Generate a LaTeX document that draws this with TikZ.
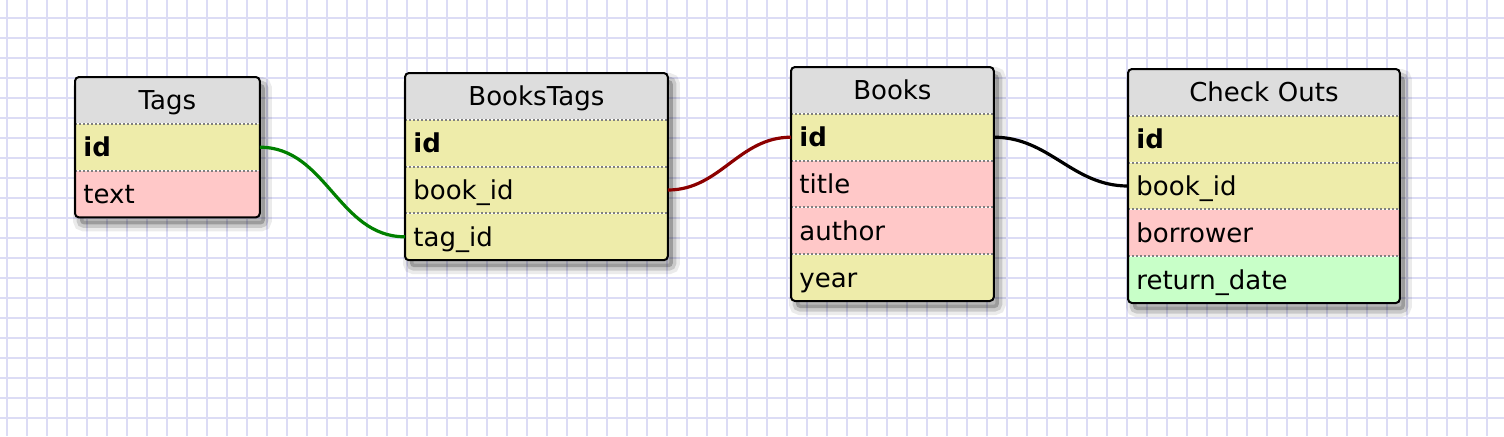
\documentclass[tikz,border=0pt]{standalone}
\usepackage{fontspec}
\setmainfont{DejaVu Sans}
\usetikzlibrary{positioning,fit,shadows}
\definecolor{gridblue}{RGB}{220,220,245}
\definecolor{headgray}{RGB}{221,221,221}
\definecolor{keyyellow}{RGB}{238,236,170}
\definecolor{textpink}{RGB}{255,200,200}
\definecolor{dategreen}{RGB}{200,255,200}
\definecolor{sepgray}{RGB}{128,128,128}
\definecolor{linkgreen}{RGB}{0,128,0}
\definecolor{linkred}{RGB}{140,0,0}
\pgfdeclarelayer{background}
\pgfsetlayers{background,main}
\tikzset{
    every node/.style = {font=\fontsize{13}{15}\selectfont},
    tablerow/.style = {minimum height=23pt, inner xsep=4pt, inner ysep=0pt,
        text height=12pt, text depth=2.5pt, align=left},
    tablehead/.style = {tablerow, fill=headgray, align=center, anchor=north west},
    tableshadow/.style = {inner sep=0pt, rounded corners=2pt, fill=white,
        drop shadow={shadow xshift=2.5pt, shadow yshift=-3.5pt, fill=none,
            draw=black, line width=7pt, opacity=0.08},
        drop shadow={shadow xshift=2.5pt, shadow yshift=-3.5pt, fill=none,
            draw=black, line width=3.5pt, opacity=0.14},
        drop shadow={shadow xshift=2.5pt, shadow yshift=-3.5pt, fill=black,
            opacity=0.22}},
    tableframe/.style = {draw, inner sep=0pt, rounded corners=2pt, line width=1pt},
    rowline/.style = {draw=sepgray, line width=1pt, dash pattern=on 1pt off 1pt},
    gridline/.style = {draw=gridblue, line width=1pt},
    link/.style = {line width=1.6pt}
}

\begin{document}
\begin{tikzpicture}[x=0.5pt, y=-0.5pt]
    \useasboundingbox (0,0) rectangle (1504,436);

    % paper grid
    \begin{pgfonlayer}{background}
        \fill[white] (0,0) rectangle (1504,436);
        \foreach \gx in {0,...,74}
            \draw[gridline] (6.7+20*\gx,0) -- (6.7+20*\gx,436);
        \foreach \gy in {0,...,20}
            \draw[gridline] (0,18.3+20*\gy) -- (1504,18.3+20*\gy);
    \end{pgfonlayer}

    % Tags
    \begin{scope}[nodes={text width=84pt}]
        \node[tablehead] (tags-h) at (75,77) {Tags};
        \node[tablerow, fill=keyyellow, below=0pt of tags-h] (tags-1) {\textbf{id}};
        \node[tablerow, fill=textpink, below=0pt of tags-1] (tags-2) {text};
    \end{scope}

    % BooksTags
    \begin{scope}[nodes={text width=123pt}]
        \node[tablehead] (bt-h) at (405,73) {BooksTags};
        \node[tablerow, fill=keyyellow, below=0pt of bt-h] (bt-1) {\textbf{id}};
        \node[tablerow, fill=keyyellow, below=0pt of bt-1] (bt-2) {book\_id};
        \node[tablerow, fill=keyyellow, below=0pt of bt-2] (bt-3) {tag\_id};
    \end{scope}

    % Books
    \begin{scope}[nodes={text width=93pt}]
        \node[tablehead] (books-h) at (791,67) {Books};
        \node[tablerow, fill=keyyellow, below=0pt of books-h] (books-1) {\textbf{id}};
        \node[tablerow, fill=textpink, below=0pt of books-1] (books-2) {title};
        \node[tablerow, fill=textpink, below=0pt of books-2] (books-3) {author};
        \node[tablerow, fill=keyyellow, below=0pt of books-3] (books-4) {year};
    \end{scope}

    % Check Outs
    \begin{scope}[nodes={text width=127.5pt}]
        \node[tablehead] (co-h) at (1128,69) {Check Outs};
        \node[tablerow, fill=keyyellow, below=0pt of co-h] (co-1) {\textbf{id}};
        \node[tablerow, fill=keyyellow, below=0pt of co-1] (co-2) {book\_id};
        \node[tablerow, fill=textpink, below=0pt of co-2] (co-3) {borrower};
        \node[tablerow, fill=dategreen, below=0pt of co-3] (co-4) {return\_date};
    \end{scope}

    % shadows
    \begin{pgfonlayer}{background}
        \node[tableshadow, fit=(tags-h)(tags-2)] (tags-bg) {};
        \node[tableshadow, fit=(bt-h)(bt-3)] (bt-bg) {};
        \node[tableshadow, fit=(books-h)(books-4)] (books-bg) {};
        \node[tableshadow, fit=(co-h)(co-4)] (co-bg) {};
    \end{pgfonlayer}

    % row separators
    \foreach \row in {tags-1,tags-2,bt-1,bt-2,bt-3,books-1,books-2,books-3,books-4,co-1,co-2,co-3,co-4}
        \draw[rowline] (\row.north west) -- (\row.north east);

    % frames
    \node[tableframe, fit=(tags-h)(tags-2)] (tags) {};
    \node[tableframe, fit=(bt-h)(bt-3)] (bt) {};
    \node[tableframe, fit=(books-h)(books-4)] (books) {};
    \node[tableframe, fit=(co-h)(co-4)] (co) {};

    % links
    \draw[link, linkgreen] (tags-1.east) to[out=0, in=180] (bt-3.west);
    \draw[link, linkred] (bt-2.east) to[out=0, in=180] (books-1.west);
    \draw[link, black] (books-1.east) to[out=0, in=180] (co-2.west);
\end{tikzpicture}
\end{document}
